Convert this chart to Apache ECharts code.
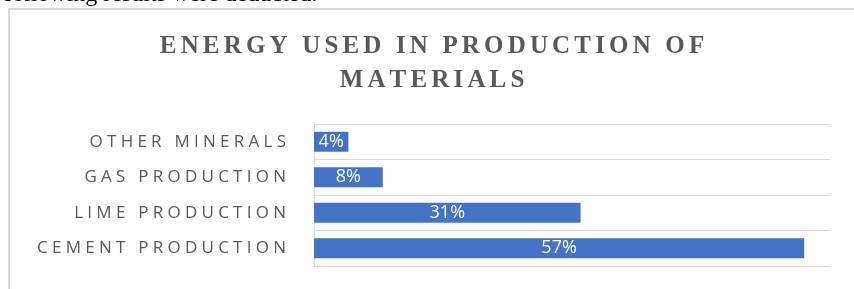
<!DOCTYPE html>
<html><head><meta charset="utf-8">
<script src="https://cdn.jsdelivr.net/npm/echarts@6/dist/echarts.min.js"></script>
<style>html,body{margin:0;padding:0;background:#fff}#c{width:854px;height:289px}</style>
</head><body><div id="c"></div>
<script>
const titleText = 'ENERGY USED IN PRODUCTION OF\nMATERIALS';
const categories = ['Cement Production','Lime Production','Gas Production','Other Minerals'];
const values = [57,31,8,4];
const aboveText = 'following results were deducted.';

function spaced(s, sp){ return s.split('\n').map(l=>l.split('').join(sp)).join('\n'); }

const chart = echarts.init(document.getElementById('c'));
chart.setOption({
  animation:false,
  backgroundColor:'#fff',
  title:{
    text: spaced(titleText,'\u2006'),
    left:432, textAlign:'center', top:30, padding:0,
    textStyle:{fontFamily:'Liberation Serif',fontWeight:'bold',fontSize:25,lineHeight:34,color:'#595959'}
  },
  graphic:[
    {type:'rect',shape:{x:9,y:9,width:900,height:400},style:{fill:'none',stroke:'#d9d9d9',lineWidth:2},z:0},
    {type:'text',left:4,top:-17,style:{text:aboveText,font:'24px "Liberation Serif"',fill:'#000'}}
  ],
  grid:{left:314,right:24,top:124,bottom:23,containLabel:false},
  xAxis:{type:'value',min:0,max:60,show:false,splitLine:{show:false}},
  yAxis:{type:'category',data:categories,
    axisLine:{show:true,lineStyle:{color:'#d9d9d9',width:1}},
    axisTick:{show:false},
    splitLine:{show:true,lineStyle:{color:'#d9d9d9',width:1}},
    axisLabel:{margin:28,color:'#595959',fontFamily:'Open Sans',fontSize:17,
      formatter:v=>spaced(v.toUpperCase(),'\u2005')}
  },
  series:[{type:'bar',data:values,barWidth:20,itemStyle:{color:'#4472C4'},
    label:{show:true,position:'inside',color:'#fff',fontFamily:'Open Sans',fontSize:18,formatter:p=>p.value+'%'}}]
});
</script></body></html>
